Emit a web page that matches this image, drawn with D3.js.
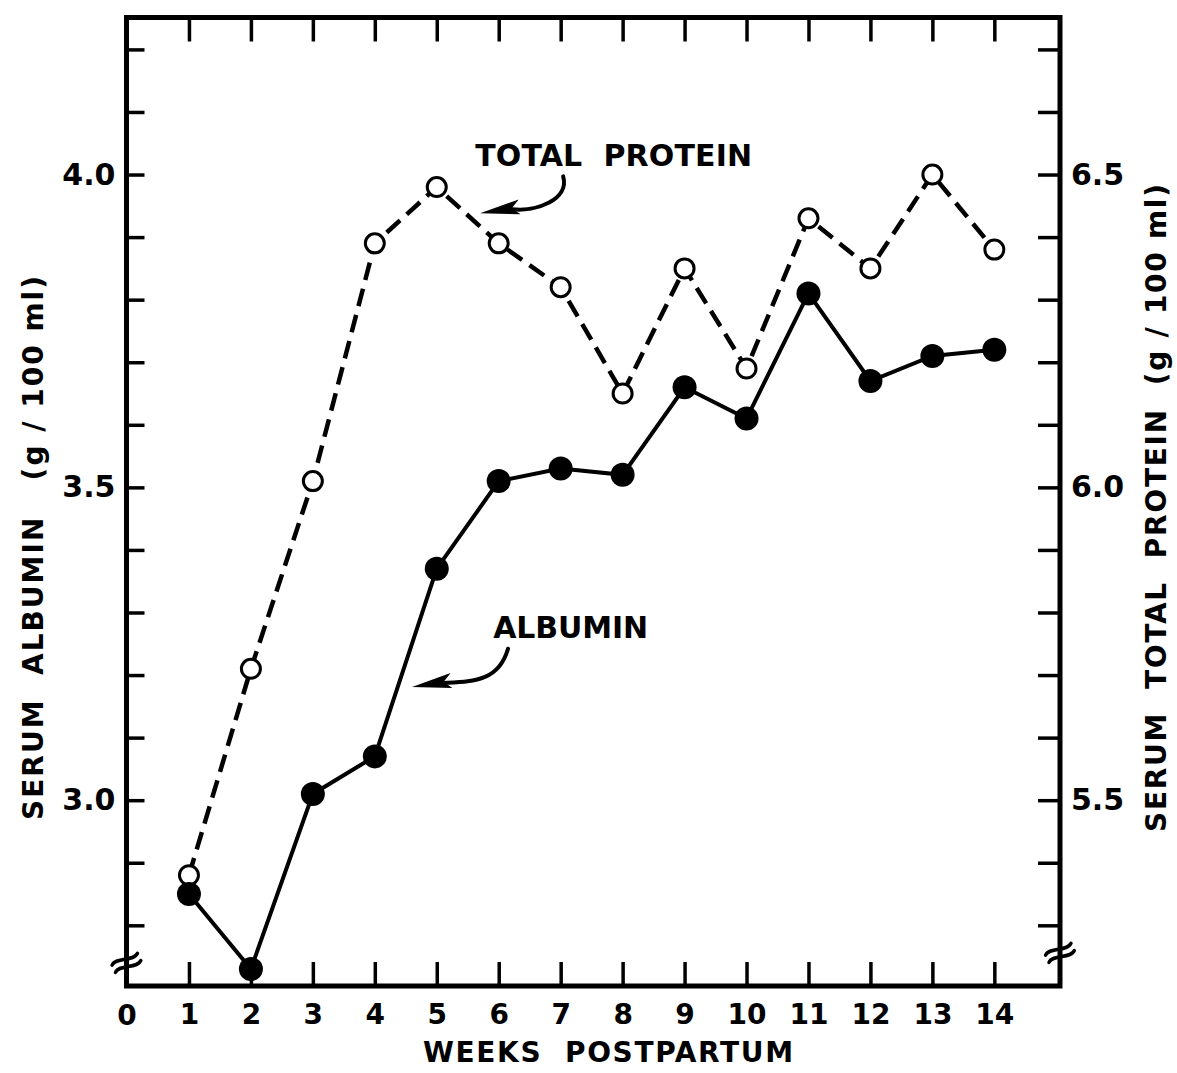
<!DOCTYPE html>
<html>
<head>
<meta charset="utf-8">
<script src="https://cdn.jsdelivr.net/npm/d3@7"></script>
<style>
  body { margin: 0; background: #fff; }
  text { font-family: "DejaVu Sans", Verdana, sans-serif; font-weight: bold; fill: #000; }
</style>
</head>
<body>
<svg id="chart" width="1177" height="1073"></svg>
<script>
// weeks postpartum
const weeks = [1, 2, 3, 4, 5, 6, 7, 8, 9, 10, 11, 12, 13, 14];
// serum albumin, g/100 ml (left axis, filled dots)
const albumin = [2.85, 2.73, 3.01, 3.07, 3.37, 3.51, 3.53, 3.52, 3.66, 3.61, 3.81, 3.67, 3.71, 3.72];
// serum total protein, g/100 ml (right axis, open dots)
const totalProtein = [5.38, 5.71, 6.01, 6.39, 6.48, 6.39, 6.32, 6.15, 6.35, 6.19, 6.43, 6.35, 6.50, 6.38];

const xTicks = d3.range(0, 15);
const leftTicks = d3.range(28, 43).map(d => d / 10);
const leftLabels = [3.0, 3.5, 4.0];
const rightTicks = d3.range(53, 68).map(d => d / 10);
const rightLabels = [5.5, 6.0, 6.5];

const svg = d3.select("#chart");
const frame = { left: 126.5, right: 1060, top: 17.5, bottom: 986 };

const x = d3.scaleLinear().domain([0, 15.06]).range([127, 1060]);
const yLeft = d3.scaleLinear().domain([2.703, 4.251]).range([frame.bottom, frame.top]);
const yRight = d3.scaleLinear().domain([5.203, 6.751]).range([frame.bottom, frame.top]);

// axes, ticks drawn inward
function styleAxis(g, fontSize) {
  g.select(".domain").remove();
  g.selectAll(".tick line").attr("stroke", "#000").attr("stroke-width", 3.5);
  g.selectAll(".tick text")
    .attr("fill", "#000")
    .style("font-size", fontSize + "px")
    .style("font-family", "DejaVu Sans, Verdana, sans-serif")
    .style("font-weight", "bold");
}

const fmt = labels => d => labels.some(l => Math.abs(l - d) < 1e-6) ? d.toFixed(1) : "";

svg.append("g")
  .attr("transform", `translate(${frame.left},0)`)
  .call(d3.axisLeft(yLeft).tickValues(leftTicks)
    .tickSize(-18).tickPadding(11).tickFormat(fmt(leftLabels)))
  .call(g => styleAxis(g, 30));

svg.append("g")
  .attr("transform", `translate(${frame.right},0)`)
  .call(d3.axisRight(yRight).tickValues(rightTicks)
    .tickSize(-22).tickPadding(11).tickFormat(fmt(rightLabels)))
  .call(g => styleAxis(g, 30));

svg.append("g")
  .attr("transform", `translate(0,${frame.bottom})`)
  .call(d3.axisBottom(x).tickValues(xTicks.filter(d => d > 0)).tickSize(-24).tickPadding(18)
    .tickFormat(d => d))
  .call(g => styleAxis(g, 28));

svg.append("g")
  .attr("transform", `translate(0,${frame.top})`)
  .call(d3.axisTop(x).tickValues(xTicks.filter(d => d > 0)).tickSize(-24).tickFormat(""))
  .call(g => styleAxis(g, 28));

// "0" label at the corner
svg.append("text")
  .attr("x", x(0)).attr("y", frame.bottom + 18 + 21)
  .attr("text-anchor", "middle").style("font-size", "28px").text("0");

// frame
svg.append("rect")
  .attr("x", frame.left).attr("y", frame.top)
  .attr("width", frame.right - frame.left).attr("height", frame.bottom - frame.top)
  .attr("fill", "none").attr("stroke", "#000").attr("stroke-width", 5);

// axis break marks
function breakMark(cx, cy) {
  const g = svg.append("g").attr("transform", `translate(${cx},${cy}) rotate(-25)`);
  [-4, 4].forEach(dy => {
    g.append("path")
      .attr("d", `M-14,${dy} C-7,${dy - 6} 7,${dy + 6} 14,${dy}`)
      .attr("fill", "none").attr("stroke", "#000").attr("stroke-width", 3.5)
      .attr("stroke-linecap", "round");
  });
}
breakMark(frame.left, yLeft(2.74));
breakMark(frame.right, yRight(5.256));

// lines
const protLine = d3.line().x((d, i) => x(weeks[i])).y(d => yRight(d));
const albLine = d3.line().x((d, i) => x(weeks[i])).y(d => yLeft(d));

svg.append("path").datum(totalProtein).attr("d", protLine)
  .attr("fill", "none").attr("stroke", "#000").attr("stroke-width", 4.5)
  .attr("stroke-dasharray", "18,9");

svg.append("path").datum(albumin).attr("d", albLine)
  .attr("fill", "none").attr("stroke", "#000").attr("stroke-width", 4);

svg.selectAll(".open").data(totalProtein).enter().append("circle")
  .attr("class", "open")
  .attr("cx", (d, i) => x(weeks[i])).attr("cy", d => yRight(d))
  .attr("r", 9.5).attr("fill", "#fff").attr("stroke", "#000").attr("stroke-width", 3);

svg.selectAll(".filled").data(albumin).enter().append("circle")
  .attr("class", "filled")
  .attr("cx", (d, i) => x(weeks[i])).attr("cy", d => yLeft(d))
  .attr("r", 12).attr("fill", "#000");

// annotations with curved arrows
function arrow(tail, ctrl1, ctrl2, tip) {
  const p = d3.path();
  p.moveTo(tail[0], tail[1]);
  p.bezierCurveTo(ctrl1[0], ctrl1[1], ctrl2[0], ctrl2[1], tip[0] + 32, tip[1] - 4);
  svg.append("path").attr("d", p.toString())
    .attr("fill", "none").attr("stroke", "#000").attr("stroke-width", 4)
    .attr("stroke-linecap", "round");
  const ang = Math.atan2(-4, 32) * 180 / Math.PI;
  svg.append("path")
    .attr("transform", `translate(${tip[0]},${tip[1]}) rotate(${ang})`)
    .attr("d", "M0,0 L40,-9 L32,-1 L40,6 Z").attr("fill", "#000");
}

svg.append("text")
  .attr("x", x(5.62)).attr("y", yRight(6.514))
  .attr("textLength", 277).style("font-size", "30px").style("white-space", "pre")
  .text("TOTAL  PROTEIN");
arrow([x(7.04), yRight(6.497)], [x(7.15), yRight(6.46)], [x(6.6), yRight(6.44)], [x(5.70), yRight(6.438)]);

svg.append("text")
  .attr("x", x(5.91)).attr("y", yLeft(3.259))
  .attr("textLength", 155).style("font-size", "30px")
  .text("ALBUMIN");
arrow([x(6.15), yLeft(3.242)], [x(6.0), yLeft(3.19)], [x(5.6), yLeft(3.19)], [x(4.60), yLeft(3.181)]);

// axis titles
svg.append("text")
  .attr("x", 423).attr("y", 1062)
  .attr("textLength", 370)
  .style("font-size", "28px").style("white-space", "pre")
  .text("WEEKS  POSTPARTUM");

svg.append("text")
  .attr("transform", "translate(43,548) rotate(-90)")
  .attr("text-anchor", "middle").attr("textLength", 544)
  .style("font-size", "28px").style("white-space", "pre")
  .text("SERUM  ALBUMIN   (g / 100 ml)");

svg.append("text")
  .attr("transform", "translate(1166,508) rotate(-90)")
  .attr("text-anchor", "middle").attr("textLength", 648)
  .style("font-size", "28px").style("white-space", "pre")
  .text("SERUM  TOTAL  PROTEIN  (g / 100 ml)");
</script>
</body>
</html>
